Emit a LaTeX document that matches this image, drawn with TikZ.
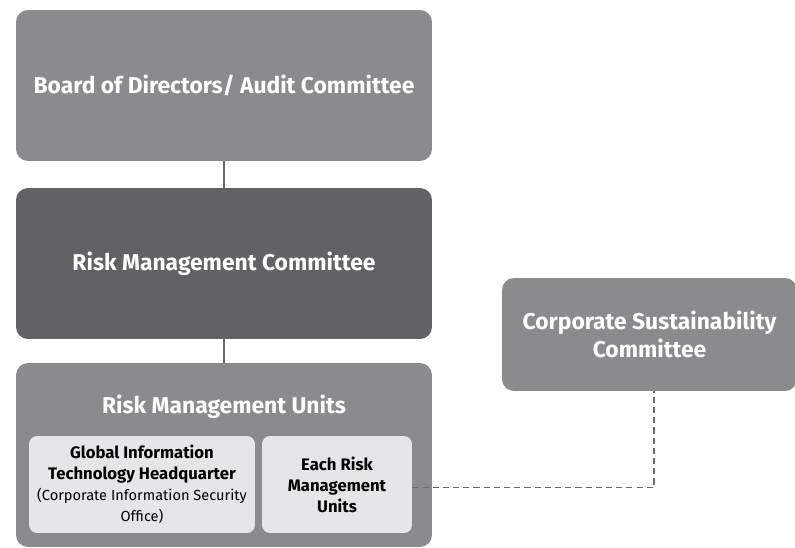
\documentclass[tikz,border=0pt]{standalone}
\usepackage{fontspec}
\setmainfont{Fira Sans}
\usepackage{tikz}
\usetikzlibrary{positioning,calc}
\usepackage{xcolor}
\definecolor{boxgray}{HTML}{8B8B8E}
\definecolor{boxdark}{HTML}{626264}
\definecolor{boxlight}{HTML}{E6E6E8}
\definecolor{linegray}{HTML}{6A6A6C}

\tikzset{
  bigbox/.style={rounded corners=0.24cm,fill=boxgray,text=white,align=center,
    minimum width=8.32cm,minimum height=3.02cm,font=\fontsize{13}{16}\selectfont\bfseries},
  unitbox/.style={rounded corners=0.16cm,fill=boxlight,text=black,align=center,
    minimum height=1.94cm,font=\fontsize{9.5}{12}\selectfont\bfseries},
  link/.style={draw=linegray,line width=1.1pt},
  dashlink/.style={draw=linegray,line width=1pt,dash pattern=on 3.5pt off 2.3pt}
}
\newcommand{\notefont}{\mdseries\fontsize{8.3}{10}\selectfont}

\begin{document}
\begin{tikzpicture}[x=0.02cm,y=-0.02cm]
\useasboundingbox (0,0) rectangle (795,548);
\node[bigbox] (board) at (224,85.5) {Board of Directors/ Audit Committee};
\node[bigbox,fill=boxdark] (rmc) at (224,263.5) {Risk Management Committee};
\node[bigbox,minimum height=3.68cm] (rmu) at (224,455) {};
\node[text=white,font=\fontsize{13}{16}\selectfont\bfseries] (rmutitle) at (224,407) {Risk Management Units};
\node[unitbox,minimum width=4.52cm] (gith) at (142,484.5)
  {Global Information\\Technology Headquarter\\\notefont (Corporate Information Security\\\notefont Office)};
\node[unitbox,minimum width=3.0cm] (each) at (337,484.5) {Each Risk\\Management\\Units};
\node[bigbox,minimum width=5.9cm,minimum height=2.26cm] (csc) at (649.5,334.5)
  {Corporate Sustainability\\Committee};
% connectors
\draw[link] (board.south) -- (rmc.north);
\draw[link] (rmc.south) -- (rmu.north);
\draw[dashlink] ([yshift=-0.06cm]each.east) -| ([xshift=0.09cm]csc.south);
\end{tikzpicture}
\end{document}
